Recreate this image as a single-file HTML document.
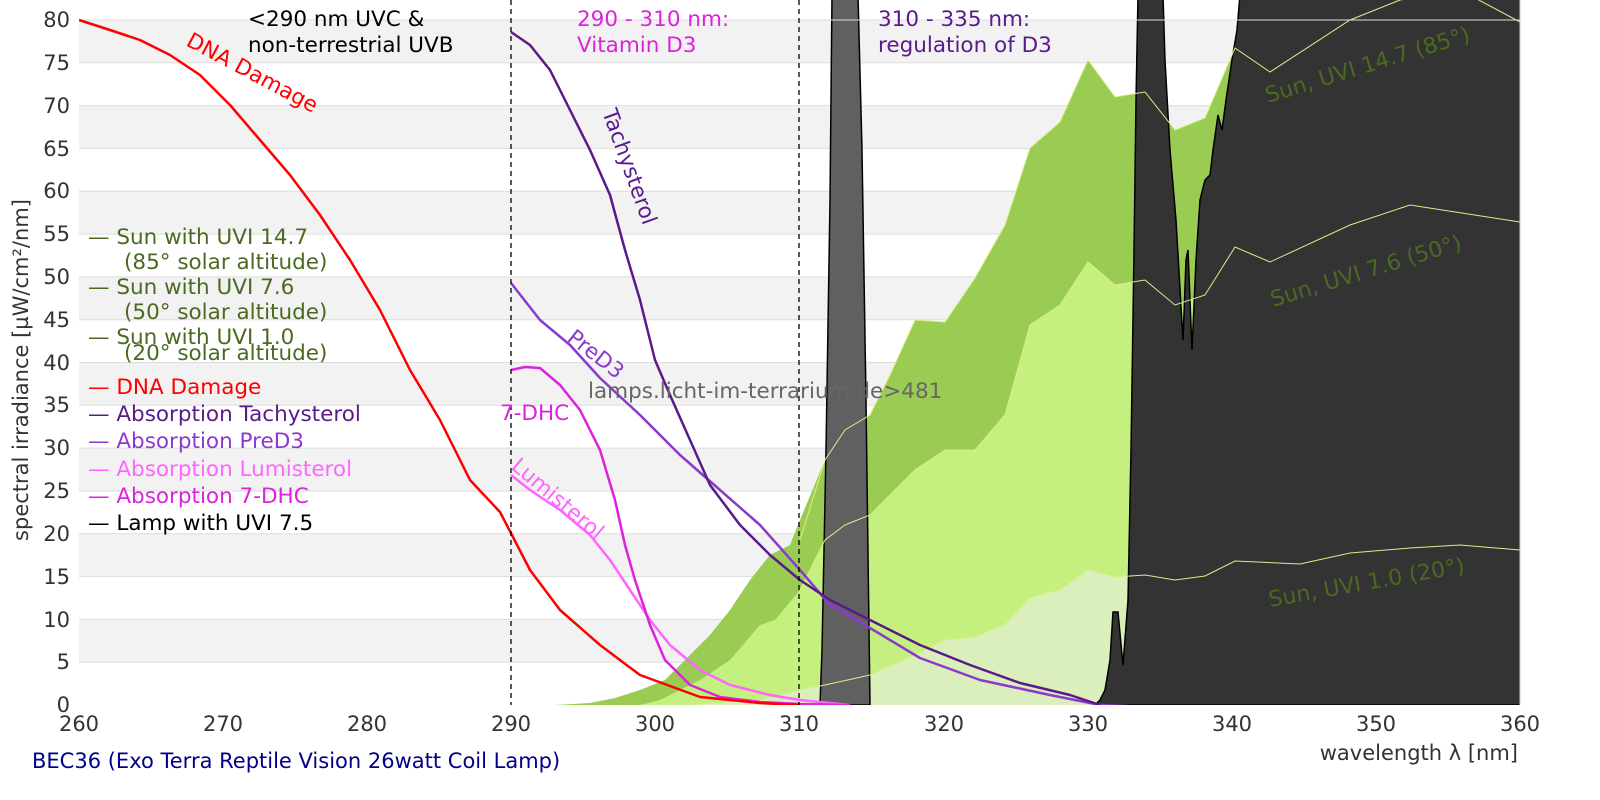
<!DOCTYPE html>
<html><head><meta charset="utf-8"><style>
body{margin:0;background:#fff;}
svg{display:block;font-family:"DejaVu Sans","Liberation Sans",sans-serif;}
</style></head><body>
<svg width="1600" height="800" viewBox="0 0 1600 800" xmlns="http://www.w3.org/2000/svg">
<defs><clipPath id="c"><rect x="79" y="0" width="1441" height="705"/></clipPath></defs>
<g fill="#f2f2f2">
<rect x="79" y="20" width="1441" height="42.8"/>
<rect x="79" y="105.6" width="1441" height="42.8"/>
<rect x="79" y="191.3" width="1441" height="42.8"/>
<rect x="79" y="276.9" width="1441" height="42.8"/>
<rect x="79" y="362.5" width="1441" height="42.8"/>
<rect x="79" y="448.1" width="1441" height="42.8"/>
<rect x="79" y="533.8" width="1441" height="42.8"/>
<rect x="79" y="619.4" width="1441" height="42.8"/>
</g>
<g stroke="#dddddd" stroke-width="1">
<line x1="79" x2="1520" y1="62.8" y2="62.8"/><line x1="79" x2="1520" y1="105.6" y2="105.6"/>
<line x1="79" x2="1520" y1="148.4" y2="148.4"/><line x1="79" x2="1520" y1="191.3" y2="191.3"/>
<line x1="79" x2="1520" y1="234.1" y2="234.1"/><line x1="79" x2="1520" y1="276.9" y2="276.9"/>
<line x1="79" x2="1520" y1="319.7" y2="319.7"/><line x1="79" x2="1520" y1="362.5" y2="362.5"/>
<line x1="79" x2="1520" y1="405.3" y2="405.3"/><line x1="79" x2="1520" y1="448.1" y2="448.1"/>
<line x1="79" x2="1520" y1="491" y2="491"/><line x1="79" x2="1520" y1="533.8" y2="533.8"/>
<line x1="79" x2="1520" y1="576.6" y2="576.6"/><line x1="79" x2="1520" y1="619.4" y2="619.4"/>
<line x1="79" x2="1520" y1="662.2" y2="662.2"/>
</g>
<g clip-path="url(#c)">
<polygon fill="#9acb52" points="555,705 590,703 615,698 640,690 665,680 690,655 710,635 730,610 750,580 770,555 790,545 800,520 825,460 845,430 870,415 890,375 915,320 945,322 975,278 1005,225 1030,148 1060,122 1088,60 1115,97 1145,92 1175,130 1205,118 1235,48 1270,72 1350,20 1410,0 1520,0 1520,705"/>
<polygon fill="#c5f07f" points="640,705 660,700 700,680 730,660 760,625 775,620 800,590 825,540 845,525 870,515 890,495 915,470 945,450 975,450 1005,415 1030,325 1060,305 1088,262 1115,285 1145,280 1175,305 1205,295 1235,247 1270,262 1350,225 1410,205 1520,222 1520,705"/>
<polygon fill="#dbefbd" points="690,705 760,700 800,690 825,685 870,675 915,655 945,640 975,637 1005,625 1030,598 1060,590 1088,570 1115,577 1145,575 1175,580 1205,576 1235,561 1300,564 1350,553 1410,548 1460,545 1520,550 1520,705"/>
<polygon fill="#606060" stroke="#000" stroke-width="1.5" points="820,705 822,650 826,450 830,200 832,-5 858,-5 862,150 866,400 870,705"/>
<polygon fill="#333333" stroke="#000" stroke-width="1.5" points="1095,705 1100,700 1105,690 1110,660 1113,612 1118,612 1123,665 1128,600 1131,450 1134,250 1136,100 1138,-5 1163,-5 1165,60 1170,150 1176,220 1183,340 1186,260 1188,250 1192,350 1196,260 1200,200 1205,180 1210,175 1213,150 1218,115 1222,130 1226,100 1232,60 1237,30 1240,-5 1525,-5 1525,705"/>
<g fill="none" stroke="#d8f08a" stroke-width="1">
<polyline points="800,540 825,460 845,430 870,415 890,375 915,320 945,322 975,278 1005,225 1030,148 1060,122 1088,60 1115,97 1145,92 1175,130 1205,118 1235,48 1270,72 1350,20 1400,0 1460,-10 1520,22"/>
<polyline points="800,590 825,540 845,525 870,515 890,495 915,470 945,450 975,450 1005,415 1030,325 1060,305 1088,262 1115,285 1145,280 1175,305 1205,295 1235,247 1270,262 1350,225 1410,205 1520,222"/>
<polyline points="800,690 825,685 870,675 915,655 945,640 975,637 1005,625 1030,598 1060,590 1088,570 1115,577 1145,575 1175,580 1205,576 1235,561 1300,564 1350,553 1410,548 1460,545 1520,550"/>
</g>
<line x1="79" x2="1520" y1="20" y2="20" stroke="#dddddd" stroke-width="1"/>
<g fill="none" stroke-width="2.5" stroke-linejoin="round">
<polyline stroke="#ff66ff" points="511,475 530,490 560,510 590,535 610,560 630,590 650,620 670,645 700,670 730,685 770,695 800,700 850,705"/>
<polyline stroke="#dd22dd" points="511,370 525,367 540,368 560,385 580,410 600,450 615,500 625,545 635,580 650,625 665,660 690,685 720,697 760,702 800,704 850,705"/>
<polyline stroke="#8a3acc" points="511,283 540,320 570,345 600,378 640,415 680,455 720,490 760,525 800,570 830,605 870,628 920,658 980,680 1050,695 1100,705 1150,707"/>
<polyline stroke="#5a1a8a" points="511,32 530,45 550,70 570,110 590,150 610,195 625,250 640,300 655,360 670,395 690,440 710,485 740,525 770,555 800,580 830,600 870,620 920,645 970,665 1020,683 1070,695 1100,705"/>
<polyline stroke="#ff0000" points="79,20 110,30 140,40 170,55 200,75 230,105 260,140 290,175 320,215 350,260 380,310 410,370 440,420 470,480 500,512 530,570 560,610 600,645 640,675 700,697 760,703 800,705"/>
</g>
</g>
<g stroke="#000" stroke-width="1.3" stroke-dasharray="5,4">
<line x1="511" x2="511" y1="0" y2="705"/><line x1="799" x2="799" y1="0" y2="705"/>
</g>
<line x1="1520" x2="1520" y1="0" y2="705" stroke="#ccc"/>
<g font-size="21.5">
<text x="185" y="45" fill="#ff0000" transform="rotate(28 185 45)">DNA Damage</text>
<text x="602" y="112" fill="#5a1a8a" transform="rotate(70 602 112)">Tachysterol</text>
<text x="566" y="340" fill="#8a3acc" transform="rotate(38 566 340)">PreD3</text>
<text x="500" y="420" fill="#dd22dd">7-DHC</text>
<text x="510" y="468" fill="#ff66ff" transform="rotate(40 510 468)">Lumisterol</text>
<text x="588" y="398" fill="#666">lamps.licht-im-terrarium.de&gt;481</text>
<g fill="#4a6a22" font-size="22">
<text x="1268" y="103" transform="rotate(-17 1268 103)">Sun, UVI 14.7 (85°)</text>
<text x="1273" y="307" transform="rotate(-17 1273 307)">Sun, UVI 7.6 (50°)</text>
<text x="1270" y="607" transform="rotate(-10 1270 607)">Sun, UVI 1.0 (20°)</text>
</g>
</g>
<g font-size="21.5">
<text x="248" y="26" fill="#000">&lt;290 nm UVC &amp;</text>
<text x="248" y="52" fill="#000">non-terrestrial UVB</text>
<text x="577" y="26" fill="#dd22dd">290 - 310 nm:</text>
<text x="577" y="52" fill="#dd22dd">Vitamin D3</text>
<text x="878" y="26" fill="#5a1a8a">310 - 335 nm:</text>
<text x="878" y="52" fill="#5a1a8a">regulation of D3</text>
</g>
<g font-size="21.5">
<text x="88" y="244" fill="#4a6a22">— Sun with UVI 14.7</text>
<text x="124" y="269" fill="#4a6a22">(85° solar altitude)</text>
<text x="88" y="294" fill="#4a6a22">— Sun with UVI 7.6</text>
<text x="124" y="319" fill="#4a6a22">(50° solar altitude)</text>
<text x="88" y="344" fill="#4a6a22">— Sun with UVI 1.0</text>
<text x="124" y="360" fill="#4a6a22">(20° solar altitude)</text>
<text x="88" y="394" fill="#ff0000">— DNA Damage</text>
<text x="88" y="421" fill="#5a1a8a">— Absorption Tachysterol</text>
<text x="88" y="448" fill="#8a3acc">— Absorption PreD3</text>
<text x="88" y="476" fill="#ff66ff">— Absorption Lumisterol</text>
<text x="88" y="503" fill="#dd22dd">— Absorption 7-DHC</text>
<text x="88" y="530" fill="#000">— Lamp with UVI 7.5</text>
</g>
<g font-size="21" fill="#333" text-anchor="end">
<text x="70" y="27">80</text><text x="70" y="70">75</text><text x="70" y="113">70</text>
<text x="70" y="156">65</text><text x="70" y="198">60</text><text x="70" y="241">55</text>
<text x="70" y="284">50</text><text x="70" y="327">45</text><text x="70" y="370">40</text>
<text x="70" y="412">35</text><text x="70" y="455">30</text><text x="70" y="498">25</text>
<text x="70" y="541">20</text><text x="70" y="584">15</text><text x="70" y="627">10</text>
<text x="70" y="669">5</text><text x="70" y="712">0</text>
</g>
<g font-size="21" fill="#333" text-anchor="middle">
<text x="79" y="731">260</text><text x="223" y="731">270</text><text x="367" y="731">280</text>
<text x="511" y="731">290</text><text x="655" y="731">300</text><text x="799" y="731">310</text>
<text x="944" y="731">320</text><text x="1088" y="731">330</text><text x="1232" y="731">340</text>
<text x="1376" y="731">350</text><text x="1520" y="731">360</text>
</g>
<text x="1518" y="760" font-size="21" fill="#333" text-anchor="end">wavelength λ [nm]</text>
<text x="28" y="370" font-size="21" fill="#333" text-anchor="middle" transform="rotate(-90 28 370)">spectral irradiance [µW/cm²/nm]</text>
<text x="32" y="768" font-size="21" fill="#00008b">BEC36 (Exo Terra Reptile Vision 26watt Coil Lamp)</text>
</svg>
</body></html>
